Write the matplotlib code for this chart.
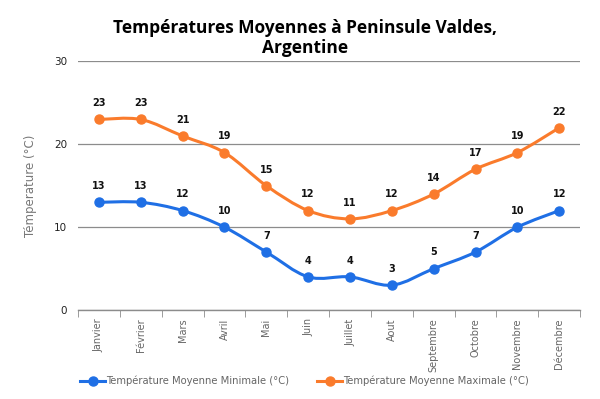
import matplotlib
matplotlib.use("Agg")
import matplotlib.pyplot as plt
from matplotlib.path import Path
from matplotlib.patches import PathPatch
from matplotlib.lines import Line2D
import numpy as np

months = ["Janvier", "Février", "Mars", "Avril", "Mai", "Juin", "Juillet",
          "Aout", "Septembre", "Octobre", "Novembre", "Décembre"]
tmin = [13, 13, 12, 10, 7, 4, 4, 3, 5, 7, 10, 12]
tmax = [23, 23, 21, 19, 15, 12, 11, 12, 14, 17, 19, 22]
series_names = ["Température Moyenne Minimale (°C)", "Température Moyenne Maximale (°C)"]
colors = ["#1F6FE5", "#FA7B2C"]
title = "Températures Moyennes à Peninsule Valdes,\nArgentine"
ylabel = "Témperature (°C)"

fig = plt.figure(figsize=(6.0, 3.99), dpi=100)
ax = fig.add_axes([0.13, 0.223, 0.837, 0.623])

def smooth_path(xs, ys, t=1/6):
    verts = [(xs[0], ys[0])]
    codes = [Path.MOVETO]
    n = len(xs)
    for i in range(n - 1):
        x0, y0 = xs[max(i - 1, 0)], ys[max(i - 1, 0)]
        x1, y1 = xs[i], ys[i]
        x2, y2 = xs[i + 1], ys[i + 1]
        x3, y3 = xs[min(i + 2, n - 1)], ys[min(i + 2, n - 1)]
        c1 = (x1 + (x2 - x0) * t, y1 + (y2 - y0) * t)
        c2 = (x2 - (x3 - x1) * t, y2 - (y3 - y1) * t)
        verts += [c1, c2, (x2, y2)]
        codes += [Path.CURVE4] * 3
    return Path(verts, codes)

x = np.arange(len(months))
for vals, col in zip([tmin, tmax], colors):
    ax.add_patch(PathPatch(smooth_path(list(x), list(vals)), facecolor="none",
                           edgecolor=col, lw=2.2, zorder=3))
    ax.plot(x, vals, "o", color=col, ms=6.5, zorder=4)
    for xi, v in zip(x, vals):
        ax.annotate(str(v), (xi, v), xytext=(0, 8), textcoords="offset points",
                    ha="center", va="bottom", fontsize=7, fontweight="bold",
                    color="#111111", zorder=5)

ax.set_xlim(-0.5, len(months) - 0.5)
ax.set_ylim(0, 30)
ax.set_yticks([0, 10, 20, 30])
ax.yaxis.grid(True, color="#8C8C8C", lw=0.9)
ax.set_axisbelow(True)
for s in ["top", "right", "left"]:
    ax.spines[s].set_visible(False)
ax.spines["bottom"].set_color("#8C8C8C")
ax.spines["bottom"].set_linewidth(1.0)
ax.tick_params(axis="y", length=0, labelsize=7.5, labelcolor="#222222", pad=8)

ax.set_xticks(x)
ax.set_xticklabels(months, rotation=90, fontsize=7, color="#666666")
ax.tick_params(axis="x", length=0, pad=6)
ax.set_xticks(np.arange(-0.5, len(months)), minor=True)
ax.tick_params(axis="x", which="minor", length=5, color="#8C8C8C", direction="out")

ax.set_ylabel(ylabel, color="#777777", fontsize=8.5, labelpad=12)

fig.text(0.508, 0.905, title, ha="center", va="center", fontsize=12.5,
         fontweight="bold", family="Open Sans", linespacing=1.15)

handles = [Line2D([], [], color=c, lw=2.2, marker="o", ms=6.5) for c in colors]
fig.legend(handles, series_names, loc="center", bbox_to_anchor=(0.508, 0.045),
           ncol=2, frameon=False, fontsize=7.2, labelcolor="#666666",
           handlelength=2.5, handletextpad=0.1, columnspacing=2.8)

fig.savefig("out.png", dpi=100)
